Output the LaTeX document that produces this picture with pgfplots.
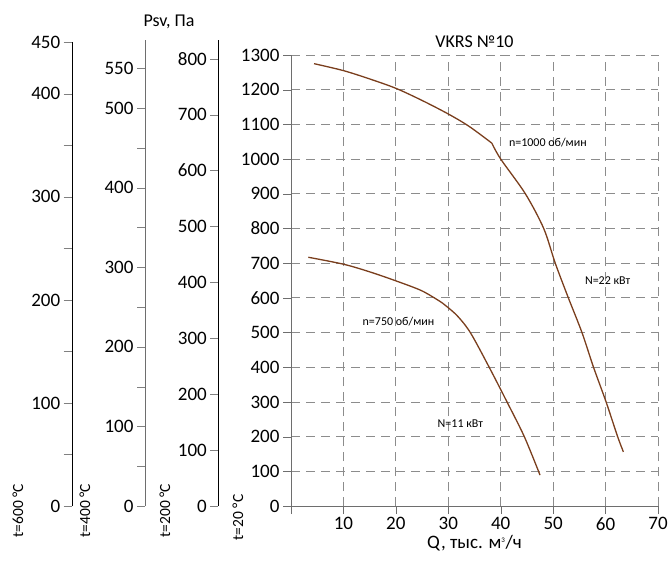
\documentclass[border=0pt]{standalone}
\usepackage{pgfplots}
\pgfplotsset{compat=1.18}
\usepackage{fontspec}
\setmainfont{Carlito}
\definecolor{curve}{RGB}{122,62,29}
\definecolor{gridgray}{RGB}{140,140,140}
\definecolor{axgray}{RGB}{110,110,110}

\pgfplotsset{
  extra/.style={
    scale only axis, width=10pt,
    xmin=0, xmax=1, hide x axis,
    axis y line*=left, ymin=0,
    tick align=outside, major tick length=8pt, minor tick length=8pt,
    yticklabel style={font=\fontsize{19}{22}\selectfont},
    /pgf/number format/assume math mode=true,
    /pgf/number format/1000 sep={},
    anchor=south west,
  },
  fan/.style={curve, line width=1.3pt, no marks, smooth, tension=0.5},
}

\begin{document}
\begin{tikzpicture}[x=1pt,y=1pt]
\useasboundingbox (0,0) rectangle (670,566);

% t=600
\begin{axis}[extra, at={(71.7pt,60pt)}, height=463.7pt, ymax=450,
  ytick={0,100,200,300,400,450}, minor ytick={50,150,250,350},
  axis line style={black}]
\end{axis}
% t=400
\begin{axis}[extra, at={(145pt,60pt)}, height=466pt, ymax=585.6,
  ytick={0,100,200,300,400,500,550}, minor ytick={50,150,250,350,450},
  axis line style={axgray}]
\end{axis}
% t=200
\begin{axis}[extra, at={(218.3pt,60pt)}, height=466pt, ymax=833.5,
  ytick={0,100,...,800},
  axis line style={black}]
\end{axis}

% main
\begin{axis}[
  scale only axis, width=367pt, height=451pt,
  anchor=south west, at={(291pt,60pt)},
  xmin=0, xmax=70, ymin=0, ymax=1300,
  axis x line*=bottom, axis y line*=left,
  axis line style={axgray},
  xtick={0,10,...,70}, xticklabels={,10,20,30,40,50,60,70},
  ytick={0,100,...,1300},
  tick align=outside, major tick length=8pt,
  tick style={axgray},
  grid=major,
  major grid style={gridgray, dash pattern=on 9pt off 6pt, line width=0.8pt},
  ticklabel style={font=\fontsize{19}{22}\selectfont},
  /pgf/number format/assume math mode=true,
  /pgf/number format/1000 sep={},
  title={VKRS №10},
  title style={font=\fontsize{18}{22}\selectfont, yshift=-2pt},
  xlabel={Q, тыс. м\textsuperscript{\fontsize{7}{8}\selectfont 3}/ч},
  xlabel style={font=\fontsize{19}{22}\selectfont, yshift=2pt},
  clip=false,
]
% n=1000
\addplot[fan] coordinates {
  (4.4,1275) (10,1255) (15,1231) (20,1204) (25,1169) (30,1130) (34,1094)
  (38.3,1046)
};
\addplot[fan] coordinates {
  (38.3,1046) (40.0,1000) (44.7,900) (48.2,800) (50.4,700) (52.9,600)
  (55.5,500) (57.7,400) (60.1,300) (62.3,200) (63.4,156)
};
% n=750
\addplot[fan] coordinates {
  (3.3,717) (10,697) (15,675) (20,649) (25,620) (28.8,586)
};
\addplot[fan] coordinates {
  (28.8,586) (31.6,550) (34.2,500) (37.8,400) (41.2,300) (44.5,200) (47.5,89)
};
\node[font=\fontsize{12}{14}\selectfont] at (axis cs:49.0,1048) {n=1000 об/мин};
\node[font=\fontsize{12}{14}\selectfont] at (axis cs:60.4,651) {N=22 кВт};
\node[font=\fontsize{12}{14}\selectfont] at (axis cs:20.5,533) {n=750 об/мин};
\node[font=\fontsize{12}{14}\selectfont] at (axis cs:32.3,236) {N=11 кВт};
\end{axis}

\node[font=\fontsize{18}{22}\selectfont] at (169,544) {Psv, Па};
\node[rotate=90, font=\fontsize{15.5}{18}\selectfont] at (18,55.5) {t=600 °C};
\node[rotate=90, font=\fontsize{15.5}{18}\selectfont] at (85,55.5) {t=400 °C};
\node[rotate=90, font=\fontsize{15.5}{18}\selectfont] at (165,55.5) {t=200 °C};
\node[rotate=90, font=\fontsize{15.5}{18}\selectfont] at (238,48.5) {t=20 °C};
\end{tikzpicture}
\end{document}
